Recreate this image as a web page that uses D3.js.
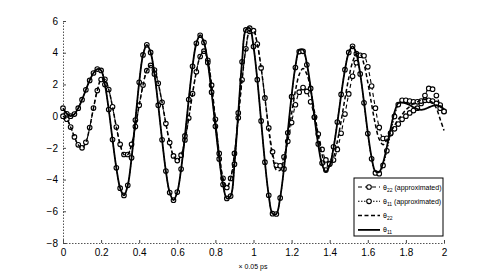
<!DOCTYPE html>
<head>
<meta charset="utf-8">
<script src="https://d3js.org/d3.v7.min.js"></script>
<style>
body { margin: 0; background: #fff; }
text { font-family: "Liberation Sans", Arial, sans-serif; fill: #000; }
.tick text { font-size: 10px; }
</style>
</head>
<body>
<svg width="491" height="273"></svg>
<script>

// time grid: 0 .. 2 step 0.02 (x 0.05 ps)
var t = d3.range(0, 101).map(function(i) { return +(i * 0.02).toFixed(2); });

var theta11Approx = [0.5, 0.15, 0.0, 0.13, 0.50, 1.04, 1.66, 2.25, 2.72, 2.97,
  2.88, 1.99, 0.42, -1.48, -3.26, -4.54, -5.0, -4.36, -2.63, -0.25,
  2.13, 3.86, 4.5, 4.02, 2.66, 0.69, -1.49, -3.46, -4.82, -5.3,
  -4.79, -3.34, -1.25, 1.05, 3.14, 4.59, 5.1, 4.65, 3.38, 1.51,
  -0.64, -2.70, -4.31, -5.19, -5.04, -3.03, 0.2, 3.43, 5.44, 5.55,
  4.39, 2.30, -0.3, -2.9, -4.99, -6.15, -6.17, -5.16, -3.33, -1.05,
  1.23, 3.06, 4.07, 4.09, 3.24, 1.75, -0.06, -1.75, -2.96, -3.4,
  -3.02, -1.93, -0.37, 1.37, 2.93, 4.02, 4.4, 3.94, 2.66, 0.84,
  -1.10, -2.69, -3.58, -3.63, -3.11, -2.19, -1.07, -0.02, 0.73, 1.0,
  1.0, 0.95, 0.9, 0.9, 0.95, 1.0, 1.0, 0.95, 0.8, 0.5, 0.3];

var theta11 = [0.5, 0.15, 0.0, 0.13, 0.50, 1.04, 1.66, 2.25, 2.72, 2.97,
  2.88, 1.99, 0.42, -1.48, -3.26, -4.54, -5.0, -4.36, -2.63, -0.25,
  2.13, 3.86, 4.5, 4.02, 2.66, 0.69, -1.49, -3.46, -4.82, -5.3,
  -4.79, -3.34, -1.25, 1.05, 3.14, 4.59, 5.1, 4.65, 3.38, 1.51,
  -0.64, -2.70, -4.31, -5.19, -5.04, -3.03, 0.2, 3.43, 5.44, 5.55,
  4.39, 2.30, -0.3, -2.9, -4.99, -6.15, -6.17, -5.14, -3.3, -1.0,
  1.3, 3.14, 4.17, 4.19, 3.32, 1.79, -0.07, -1.81, -3.05, -3.5,
  -3.11, -2.01, -0.43, 1.33, 2.91, 4.01, 4.4, 3.94, 2.68, 0.88,
  -1.03, -2.6, -3.48, -3.52, -2.94, -1.94, -0.77, 0.24, 0.82, 0.85,
  0.8, 0.7, 0.55, 0.45, 0.4, 0.45, 0.55, 0.65, 0.7, 0.6, 0.45];

var theta22Approx = [0, -0.19, -0.69, -1.31, -1.81, -2.0, -1.65, -0.72, 0.51, 1.61,
  2.31, 2.32, 1.68, 0.59, -0.69, -1.78, -2.42, -2.42, -1.78, -0.66,
  0.69, 1.96, 2.87, 3.2, 2.91, 2.07, 0.87, -0.47, -1.67, -2.51,
  -2.8, -2.46, -1.50, -0.12, 1.42, 2.80, 3.76, 4.1, 3.52, 1.95,
  -0.2, -2.35, -3.92, -4.5, -3.93, -2.35, -0.1, 2.29, 4.25, 5.35,
  5.39, 4.55, 3.04, 1.15, -0.74, -2.25, -3.1, -3.13, -2.57, -1.59,
  -0.4, 0.72, 1.51, 1.8, 1.56, 0.90, -0.07, -1.13, -2.10, -2.76,
  -3.0, -2.77, -2.10, -1.08, 0.13, 1.40, 2.51, 3.37, 3.84, 3.81,
  3.11, 1.90, 0.50, -0.71, -1.41, -1.4, -1.1, -0.8, -0.5, -0.2,
  0.0, 0.2, 0.35, 0.5, 0.8, 1.3, 1.75, 1.7, 1.3, 0.7, 0.3];

var theta22 = [0, -0.19, -0.69, -1.31, -1.81, -2.0, -1.65, -0.72, 0.51, 1.61,
  2.31, 2.32, 1.68, 0.59, -0.69, -1.78, -2.42, -2.42, -1.78, -0.66,
  0.69, 1.96, 2.87, 3.2, 2.91, 2.07, 0.87, -0.47, -1.67, -2.51,
  -2.8, -2.46, -1.50, -0.12, 1.42, 2.80, 3.76, 4.1, 3.52, 1.95,
  -0.2, -2.35, -3.92, -4.5, -3.93, -2.35, -0.1, 2.29, 4.25, 5.35,
  5.39, 4.55, 3.04, 1.15, -0.85, -2.5, -3.4, -3.4, -2.68, -1.41,
  0.14, 1.59, 2.62, 3.0, 2.65, 1.67, 0.27, -1.21, -2.43, -3.11,
  -3.13, -2.6, -1.6, -0.31, 1.11, 2.4, 3.4, 3.93, 3.92, 3.27,
  2.13, 0.75, -0.54, -1.46, -1.8, -1.5, -1.0, -0.6, -0.2, 0.1,
  0.4, 0.6, 0.8, 0.9, 1.0, 1.05, 1.0, 0.85, 0.5, -0.2, -0.9];

var xTicks = [0, 0.2, 0.4, 0.6, 0.8, 1, 1.2, 1.4, 1.6, 1.8, 2];
var yTicks = [-8, -6, -4, -2, 0, 2, 4, 6];

var series = [
  { name: "22", approx: true,  values: theta22Approx, dash: "4,3", width: 1.1, markers: true },
  { name: "11", approx: true,  values: theta11Approx, dash: "1.5,1.5", width: 1.1, markers: true },
  { name: "22", approx: false, values: theta22, dash: "4,2.5", width: 1.5, markers: false },
  { name: "11", approx: false, values: theta11, dash: null, width: 1.8, markers: false }
];

var svg = d3.select("svg");
var margin = { left: 63, right: 47, top: 21, bottom: 30 };
var width = 491 - margin.left - margin.right,
    height = 273 - margin.top - margin.bottom;

var x = d3.scaleLinear().domain([0, 2]).range([0, width]);
var y = d3.scaleLinear().domain([-8, 6]).range([height, 0]);

var g = svg.append("g")
    .attr("transform", "translate(" + margin.left + "," + margin.top + ")");

// axes, matlab style with dotted spines
var xAxis = g.append("g")
    .attr("transform", "translate(0," + height + ")")
    .call(d3.axisBottom(x).tickValues(xTicks).tickSize(-3).tickPadding(6)
      .tickFormat(d3.format("~g")));
var yAxis = g.append("g")
    .call(d3.axisLeft(y).tickValues(yTicks).tickSize(-3).tickPadding(5));

[xAxis, yAxis].forEach(function(a) {
  a.select(".domain").attr("stroke", "#555").attr("stroke-dasharray", "1.5,1.5");
  a.selectAll(".tick line").attr("stroke", "#444");
});

var line = d3.line()
    .x(function(d) { return x(d[0]); })
    .y(function(d) { return y(d[1]); })
    .curve(d3.curveCatmullRom);

series.forEach(function(s) {
  var pts = t.map(function(tt, i) { return [tt, s.values[i]]; });
  g.append("path")
    .datum(pts)
    .attr("fill", "none")
    .attr("stroke", "#000")
    .attr("stroke-width", s.width)
    .attr("stroke-dasharray", s.dash)
    .attr("d", line);
  if (s.markers) {
    g.append("g").selectAll("circle")
      .data(pts)
      .enter().append("circle")
      .attr("cx", function(d) { return x(d[0]); })
      .attr("cy", function(d) { return y(d[1]); })
      .attr("r", 2.3)
      .attr("fill", "#fff")
      .attr("stroke", "#000")
      .attr("stroke-width", 1.1);
  }
});

// x label
svg.append("text")
    .attr("x", 253)
    .attr("y", 269)
    .attr("text-anchor", "middle")
    .attr("font-size", 7)
    .text("\u00d7 0.05 ps");

// legend
var lg = svg.append("g").attr("transform", "translate(354,178)");
lg.append("rect")
    .attr("width", 89).attr("height", 58)
    .attr("fill", "#fff").attr("stroke", "#000").attr("stroke-width", 1);

var rows = lg.selectAll("g.row")
    .data(series)
    .enter().append("g")
    .attr("class", "row")
    .attr("transform", function(d, i) { return "translate(0," + (9 + i * 14.3) + ")"; });

rows.append("line")
    .attr("x1", 4).attr("x2", 26).attr("y1", 0).attr("y2", 0)
    .attr("stroke", "#000")
    .attr("stroke-width", function(d) { return d.width; })
    .attr("stroke-dasharray", function(d) { return d.dash; });

rows.filter(function(d) { return d.markers; })
  .append("circle")
    .attr("cx", 15).attr("cy", 0).attr("r", 2.3)
    .attr("fill", "#fff").attr("stroke", "#000").attr("stroke-width", 1.1);

var lt = rows.append("text")
    .attr("x", 29).attr("y", 2.5)
    .attr("font-size", 7);
lt.append("tspan").text("\u03b8");
lt.append("tspan").attr("font-size", 5).attr("dy", 2).text(function(d) { return d.name; });
lt.append("tspan").attr("dy", -2).text(function(d) { return d.approx ? " (approximated)" : ""; });

</script>
</body>
